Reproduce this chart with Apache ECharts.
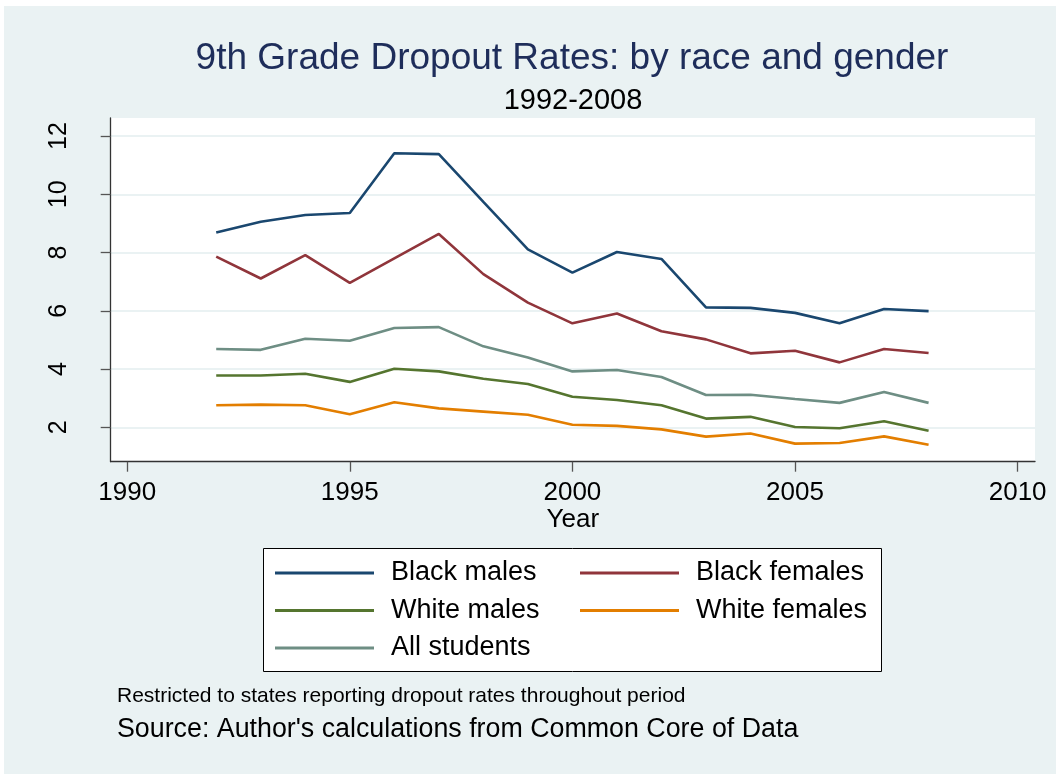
<!DOCTYPE html>
<html>
<head>
<meta charset="utf-8">
<script src="https://cdn.jsdelivr.net/npm/echarts@6/dist/echarts.min.js"></script>
<style>
html,body{margin:0;padding:0;background:#fff;}
#chart{width:1056px;height:774px;}
</style>
</head>
<body>
<div id="chart"></div>
<script>
const years = [1992,1993,1994,1995,1996,1997,1998,1999,2000,2001,2002,2003,2004,2005,2006,2007,2008];
const blackMales   = [8.69,9.06,9.29,9.36,11.41,11.38,9.74,8.11,7.31,8.02,7.78,6.12,6.10,5.93,5.57,6.06,5.99];
const blackFemales = [7.86,7.11,7.91,6.96,7.80,8.64,7.26,6.28,5.57,5.91,5.30,5.02,4.54,4.63,4.23,4.69,4.55];
const whiteMales   = [3.78,3.78,3.84,3.56,4.01,3.92,3.67,3.49,3.05,2.94,2.76,2.30,2.36,2.01,1.97,2.21,1.88];
const whiteFemales = [2.76,2.78,2.76,2.45,2.86,2.65,2.54,2.43,2.09,2.05,1.93,1.68,1.79,1.44,1.46,1.69,1.40];
const allStudents  = [4.69,4.66,5.04,4.97,5.41,5.44,4.78,4.40,3.92,3.97,3.73,3.11,3.12,2.97,2.84,3.21,2.84];
const seriesNames = ['Black males','Black females','White males','White females','All students'];
const xTicks = [1990,1995,2000,2005,2010];
const yTicks = [2,4,6,8,10,12];

const colors = ['#1a476f','#90353b','#55752f','#e37e00','#6e8e84'];
const allData = [blackMales, blackFemales, whiteMales, whiteFemales, allStudents];
const FONT = '"Liberation Sans", Arial, Helvetica, sans-serif';

const chart = echarts.init(document.getElementById('chart'), null, {renderer:'canvas'});

const series = seriesNames.map((name, i) => ({
  name: name,
  type: 'line',
  data: years.map((y, k) => [y, allData[i][k]]),
  symbol: 'none',
  lineStyle: {color: colors[i], width: 2.6},
  itemStyle: {color: colors[i]},
  animation: false
}));

const legendCommon = {
  orient: 'vertical',
  icon: 'rect',
  itemWidth: 99,
  itemHeight: 3,
  itemGap: 4.5,
  padding: 0,
  selectedMode: false,
  textStyle: {fontFamily: FONT, fontSize: 27, lineHeight: 30, color: '#000', padding: [3,0,0,12]}
};

chart.setOption({
  backgroundColor: '#ffffff',
  animation: false,
  color: colors,
  graphic: [
    {type:'rect', z:-100, silent:true, shape:{x:4,y:6,width:1052,height:768}, style:{fill:'#EAF2F3'}},
    {type:'rect', z:-50, silent:true, shape:{x:263.5,y:548.5,width:618,height:123}, style:{fill:'#ffffff', stroke:'#000', lineWidth:1}},
    {type:'text', x:572, y:59, style:{text:'9th Grade Dropout Rates: by race and gender', font:'37px ' + FONT, fill:'#1e2d5a', textAlign:'center', textVerticalAlign:'middle'}},
    {type:'text', x:573, y:101, style:{text:'1992-2008', font:'29px ' + FONT, fill:'#000', textAlign:'center', textVerticalAlign:'middle'}},
    {type:'text', x:117, y:696, style:{text:'Restricted to states reporting dropout rates throughout period', font:'21px ' + FONT, fill:'#000', textAlign:'left', textVerticalAlign:'middle'}},
    {type:'text', x:117, y:730, style:{text:"Source: Author's calculations from Common Core of Data", font:'26.8px ' + FONT, fill:'#000', textAlign:'left', textVerticalAlign:'middle'}}
  ],
  grid: {
    left: 110.7, top: 118, right: 21, bottom: 312.3,
    show: true, backgroundColor: '#ffffff', borderWidth: 0
  },
  legend: [
    Object.assign({}, legendCommon, {left: 275, top: 556.5, data: ['Black males','White males','All students']}),
    Object.assign({}, legendCommon, {left: 580, top: 556.5, data: ['Black females','White females']})
  ],
  xAxis: {
    type: 'value',
    min: 1989.63, max: 2010.39,
    name: 'Year', nameLocation: 'middle', nameGap: 44,
    nameTextStyle: {fontFamily: FONT, fontSize: 26, color: '#000'},
    axisLine: {show: true, lineStyle: {color: '#333', width: 1.3}},
    axisTick: {show: true, length: 10, lineStyle: {color: '#555', width: 1.3}, customValues: xTicks},
    axisLabel: {customValues: xTicks, formatter: v => String(v), fontFamily: FONT, fontSize: 26, color: '#000', margin: 18},
    splitLine: {show: false}
  },
  yAxis: {
    type: 'value',
    min: 0.82, max: 12.62,
    axisLine: {show: true, lineStyle: {color: '#333', width: 1.3}},
    axisTick: {show: true, length: 10, lineStyle: {color: '#555', width: 1.3}, customValues: yTicks},
    axisLabel: {customValues: yTicks, formatter: v => String(v), rotate: 90, fontFamily: FONT, fontSize: 25, color: '#000', margin: 39},
    splitLine: {show: true, lineStyle: {color: '#EAF2F3', width: 2}}
  },
  series: series
});
</script>
</body>
</html>
